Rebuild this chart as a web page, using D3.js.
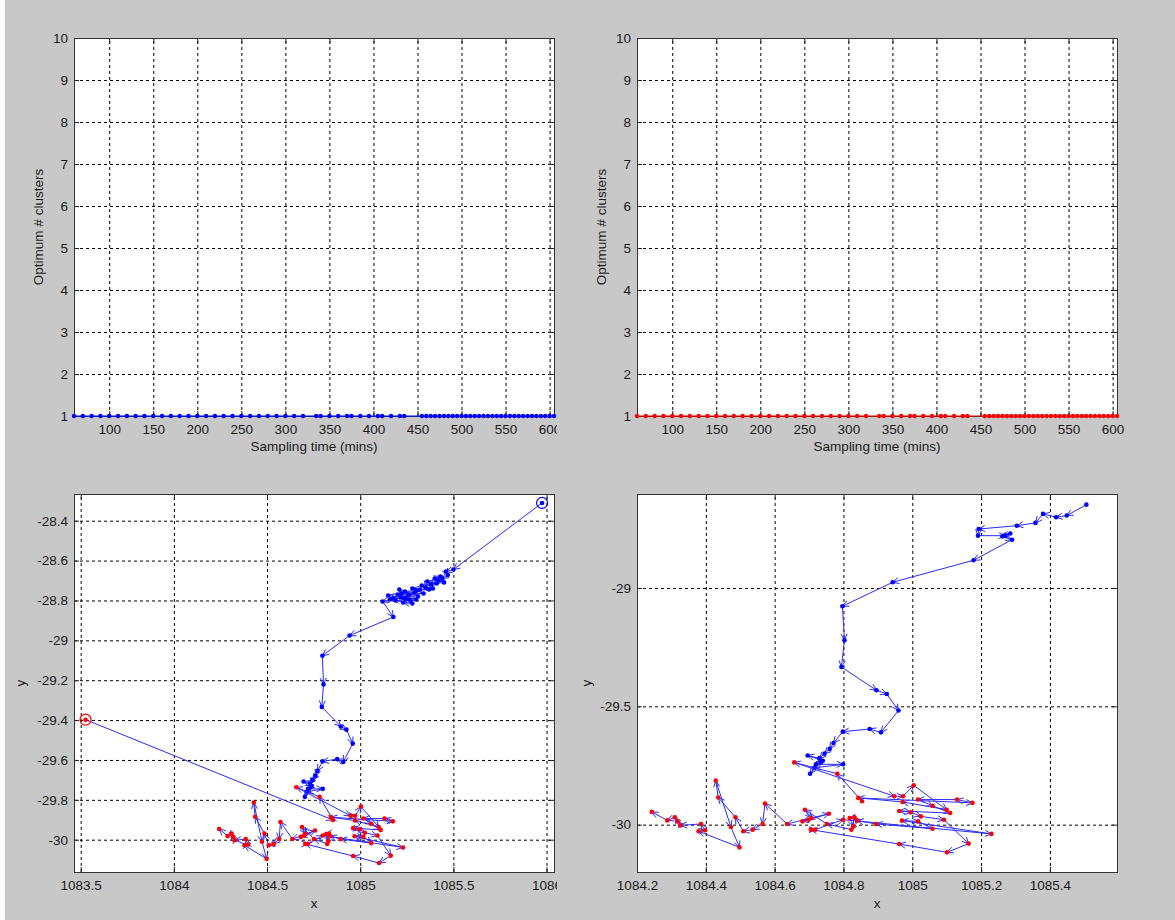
<!DOCTYPE html>
<html><head><meta charset="utf-8">
<script src="https://cdn.jsdelivr.net/npm/d3@7"></script>
<style>
body{margin:0;background:#c8c8c8;}
text{font-family:"Liberation Sans",Arial,sans-serif;font-size:13.5px;fill:#1a1a1a;}
</style>
</head><body><svg id="c" width="1175" height="920"></svg>
<script>
// ---------- data: top panels ----------
const sampleTimes = [60,70,80,90,100,110,120,130,140,150,160,170,180,190,200,210,220,230,240,250,260,270,280,290,300,310,320,
  335,340,350,360,370,375,385,395,405,410,420,430,435,
  455,460,465,470,475,480,485,490,495,500,505,510,515,520,525,530,535,540,545,550,555,560,565,570,575,580,585,590,595,600,605];
const clustersLeft = [1,1,1,1,1,1,1,1,1,1,1,1,1,1,1,1,1,1,1,1,1,1,1,1,1,1,1,1,1,1,1,1,1,1,1,1,1,1,1,1,1,1,1,1,1,1,1,1,1,1,1,1,1,1,1,1,1,1,1,1,1,1,1,1,1,1,1,1,1,1,1];
const clustersRight = [1,1,1,1,1,1,1,1,1,1,1,1,1,1,1,1,1,1,1,1,1,1,1,1,1,1,1,1,1,1,1,1,1,1,1,1,1,1,1,1,1,1,1,1,1,1,1,1,1,1,1,1,1,1,1,1,1,1,1,1,1,1,1,1,1,1,1,1,1,1,1];
const timeTicks = [100,150,200,250,300,350,400,450,500,550,600];
const clusterTicks = [1,2,3,4,5,6,7,8,9,10];

// ---------- data: trajectories ----------
const blueStart = [1085.976, -28.311];
const redStart  = [1083.526, -29.398];
const leftClusterX = [1085.50,1085.46,1085.47,1085.44,1085.42,1085.45,1085.40,1085.43,1085.38,1085.41,1085.36,1085.35,1085.39,1085.33,1085.37,1085.30,1085.32,1085.28,1085.34,1085.26,1085.29,1085.31,1085.24,1085.27,1085.21,1085.25,1085.22,1085.30,1085.20,1085.28,1085.23,1085.18,1085.24,1085.15,1085.19,1085.22,1085.16,1085.12];
const leftClusterY = [-28.645,-28.655,-28.672,-28.690,-28.700,-28.710,-28.690,-28.680,-28.720,-28.715,-28.705,-28.735,-28.740,-28.725,-28.745,-28.750,-28.745,-28.740,-28.765,-28.770,-28.760,-28.780,-28.755,-28.800,-28.745,-28.790,-28.785,-28.795,-28.770,-28.815,-28.810,-28.790,-28.790,-28.775,-28.800,-28.765,-28.795,-28.805];
const rightClusterX = [1085.506,1085.449,1085.418,1085.380,1085.358,1085.304,1085.193,1085.191,1085.270,1085.285,1085.262,1085.290];
const rightClusterY = [-28.648,-28.694,-28.701,-28.687,-28.725,-28.737,-28.751,-28.779,-28.779,-28.770,-28.782,-28.796];
const descentX = [1085.178,1084.943,1084.797,1084.803,1084.794,1084.896,1084.926,1084.960,1084.909,1084.876,1084.798,1084.771,1084.760,1084.745,1084.730,1084.696,1084.740,1084.720,1084.799,1084.715,1084.703,1084.735];
const descentY = [-28.883,-28.976,-29.077,-29.221,-29.334,-29.432,-29.448,-29.518,-29.610,-29.596,-29.607,-29.655,-29.680,-29.700,-29.720,-29.708,-29.730,-29.745,-29.745,-29.760,-29.785,-29.735];
const redX = [1084.854,1084.782,1084.657,1084.948,1084.973,1085.004,1085.100,1084.972,1084.843,1085.175,
  1085.130,1085.017,1085.059,1085.110,1084.962,1084.996,1085.025,1085.092,1085.164,1085.101,
  1084.962,1084.705,1084.718,1084.799,1085.230,1084.970,1085.017,1085.059,1084.895,1084.840,
  1084.832,1084.818,1084.829,1084.823,1084.752,1084.688,1084.707,1084.699,1084.681,1084.758,
  1084.636,1084.572,1084.565,1084.536,1084.509,1084.486,1084.436,1084.429,1084.473,1084.498,
  1084.379,1084.398,1084.386,1084.327,1084.318,1084.310,1084.288,1084.243];
const redY = [-29.901,-29.785,-29.737,-29.880,-29.880,-29.834,-29.937,-29.904,-29.887,-29.908,
  -29.894,-29.894,-29.920,-29.951,-29.942,-29.948,-29.965,-29.979,-30.080,-30.117,
  -30.082,-30.021,-30.021,-29.979,-30.039,-29.983,-29.986,-30.017,-29.997,-29.983,
  -29.969,-29.972,-30.007,-30.021,-29.997,-29.937,-29.972,-29.979,-29.986,-29.954,
  -29.997,-29.911,-29.997,-30.021,-30.028,-29.969,-29.885,-29.814,-30.010,-30.096,
  -30.028,-30.024,-29.997,-30.003,-29.986,-29.969,-29.982,-29.946];
const leftXTicks = [1083.5,1084,1084.5,1085,1085.5,1086];
const leftYTicks = [-30,-29.8,-29.6,-29.4,-29.2,-29,-28.8,-28.6,-28.4];
const rightXTicks = [1084.2,1084.4,1084.6,1084.8,1085,1085.2,1085.4];
const rightYTicks = [-30,-29.5,-29];

// ---------- drawing ----------
const W = 1175, H = 920;
const svg = d3.select('#c');
svg.append('rect').attr('width', W).attr('height', H).attr('fill', '#c8c8c8');
svg.append('rect').attr('width', 5).attr('height', H).attr('fill', '#ffffff');
const defs = svg.append('defs');
defs.append('clipPath').attr('id', 'leftcol').append('rect').attr('x', 0).attr('y', 0).attr('width', 557).attr('height', H);

let clipId = 0;
function panel(o) {
  const g = svg.append('g');
  const x = d3.scaleLinear().domain(o.xDomain).range([o.x0, o.x1]);
  const y = d3.scaleLinear().domain(o.yDomain).range([o.y1, o.y0]);
  const w = o.x1 - o.x0, h = o.y1 - o.y0;
  g.append('rect').attr('x', o.x0).attr('y', o.y0).attr('width', w).attr('height', h).attr('fill', '#fff');
  // grid
  const gx = g.append('g').attr('transform', `translate(0,${o.y1})`)
    .call(d3.axisBottom(x).tickValues(o.xTicks).tickSize(-h).tickFormat(''));
  const gy = g.append('g').attr('transform', `translate(${o.x0},0)`)
    .call(d3.axisLeft(y).tickValues(o.yTicks).tickSize(-w).tickFormat(''));
  [gx, gy].forEach(s => {
    s.select('.domain').remove();
    s.selectAll('line').attr('stroke', '#000').attr('stroke-dasharray', '3,3');
  });
  // tick marks + labels
  const tg = g.append('g');
  if (o.clipText) tg.attr('clip-path', 'url(#leftcol)');
  const ab = tg.append('g').attr('transform', `translate(0,${o.y1})`)
    .call(d3.axisBottom(x).tickValues(o.xTicks).tickSizeInner(-5).tickSizeOuter(0).tickPadding(8).tickFormat(d => String(d)));
  const at = tg.append('g').attr('transform', `translate(0,${o.y0})`)
    .call(d3.axisTop(x).tickValues(o.xTicks).tickSizeInner(-5).tickSizeOuter(0).tickFormat(''));
  const al = tg.append('g').attr('transform', `translate(${o.x0},0)`)
    .call(d3.axisLeft(y).tickValues(o.yTicks).tickSizeInner(-5).tickSizeOuter(0).tickPadding(6).tickFormat(d => String(d)));
  const ar = tg.append('g').attr('transform', `translate(${o.x1},0)`)
    .call(d3.axisRight(y).tickValues(o.yTicks).tickSizeInner(-5).tickSizeOuter(0).tickFormat(''));
  [ab, at, al, ar].forEach(s => {
    s.select('.domain').remove();
    s.attr('font-size', null).attr('font-family', null);
    s.selectAll('line').attr('stroke', '#222');
    s.selectAll('text').attr('fill', '#1a1a1a');
  });
  // box
  g.append('rect').attr('x', o.x0 + 0.5).attr('y', o.y0 + 0.5).attr('width', w).attr('height', h)
    .attr('fill', 'none').attr('stroke', '#333').attr('stroke-width', 1);
  // labels
  g.append('text').attr('x', (o.x0 + o.x1) / 2).attr('y', o.y1 + o.xLabelDy)
    .attr('text-anchor', 'middle').text(o.xLabel);
  g.append('text').attr('transform', `translate(${o.yLabelX},${(o.y0 + o.y1) / 2}) rotate(-90)`)
    .attr('text-anchor', 'middle').text(o.yLabel);
  // data layer
  const id = 'cp' + (clipId++);
  defs.append('clipPath').attr('id', id).append('rect')
    .attr('x', o.x0 - 4).attr('y', o.y0 - 4).attr('width', w + 8).attr('height', h + 8);
  const dg = svg.append('g').attr('clip-path', `url(#${id})`);
  return { x, y, dg };
}

// top panels
function timePanel(x0, x1, vals, color) {
  const p = panel({ x0, x1, y0: 38, y1: 416, xDomain: [60, 605], yDomain: [1, 10],
    xTicks: timeTicks, yTicks: clusterTicks, xLabel: 'Sampling time (mins)', xLabelDy: 35,
    yLabel: 'Optimum # clusters', yLabelX: x0 - 31, clipText: x0 < 300 });
  const pts = sampleTimes.map((t, i) => [t, vals[i]]);
  p.dg.append('path').attr('d', d3.line().x(d => p.x(d[0])).y(d => p.y(d[1]))(pts))
    .attr('fill', 'none').attr('stroke', color).attr('stroke-width', 1);
  p.dg.selectAll('circle').data(pts).join('circle')
    .attr('cx', d => p.x(d[0])).attr('cy', d => p.y(d[1])).attr('r', 2.2).attr('fill', color);
}
timePanel(74, 554, clustersLeft, '#0000ff');
timePanel(637, 1117, clustersRight, '#ff0000');

// trajectory panels
function drawPath(p, pts, dotColor) {
  const line = d3.line().x(d => p.x(d[0])).y(d => p.y(d[1]));
  p.dg.append('path').attr('d', line(pts)).attr('fill', 'none')
    .attr('stroke', '#2a2aff').attr('stroke-width', 1);
  const heads = [];
  for (let i = 1; i < pts.length; i++) {
    const ax = p.x(pts[i - 1][0]), ay = p.y(pts[i - 1][1]);
    const bx = p.x(pts[i][0]), by = p.y(pts[i][1]);
    const len = Math.hypot(bx - ax, by - ay);
    if (len < 2) continue;
    const th = Math.atan2(by - ay, bx - ax), L = 7, phi = 0.45;
    heads.push(`M${bx - L * Math.cos(th - phi)},${by - L * Math.sin(th - phi)}L${bx},${by}L${bx - L * Math.cos(th + phi)},${by - L * Math.sin(th + phi)}`);
  }
  p.dg.append('path').attr('d', heads.join('')).attr('fill', 'none')
    .attr('stroke', '#2a2aff').attr('stroke-width', 1);
  p.dg.append('g').selectAll('circle').data(pts).join('circle')
    .attr('cx', d => p.x(d[0])).attr('cy', d => p.y(d[1])).attr('r', 2.3).attr('fill', dotColor);
}
function ring(p, pt, color) {
  p.dg.append('circle').attr('cx', p.x(pt[0])).attr('cy', p.y(pt[1])).attr('r', 5.5)
    .attr('fill', 'none').attr('stroke', color).attr('stroke-width', 1.2);
}
const zip = (xs, ys) => xs.map((v, i) => [v, ys[i]]);

const pL = panel({ x0: 74, x1: 554, y0: 494, y1: 872, xDomain: [1083.464, 1086.04], yDomain: [-30.162, -28.266],
  xTicks: leftXTicks, yTicks: leftYTicks, xLabel: 'x', xLabelDy: 36, yLabel: 'y', yLabelX: 25, clipText: true });
drawPath(pL, [blueStart].concat(zip(leftClusterX, leftClusterY), zip(descentX, descentY)), '#0000ff');
drawPath(pL, [redStart].concat(zip(redX, redY)), '#ff0000');
ring(pL, blueStart, '#0000ff');
ring(pL, redStart, '#ff0000');

const pR = panel({ x0: 637, x1: 1117, y0: 494, y1: 872, xDomain: [1084.2, 1085.595], yDomain: [-30.2, -28.603],
  xTicks: rightXTicks, yTicks: rightYTicks, xLabel: 'x', xLabelDy: 36, yLabel: 'y', yLabelX: 591, clipText: false });
drawPath(pR, zip(rightClusterX, rightClusterY).concat(zip(descentX, descentY)), '#0000ff');
drawPath(pR, zip(redX, redY), '#ff0000');
</script>
</body></html>
